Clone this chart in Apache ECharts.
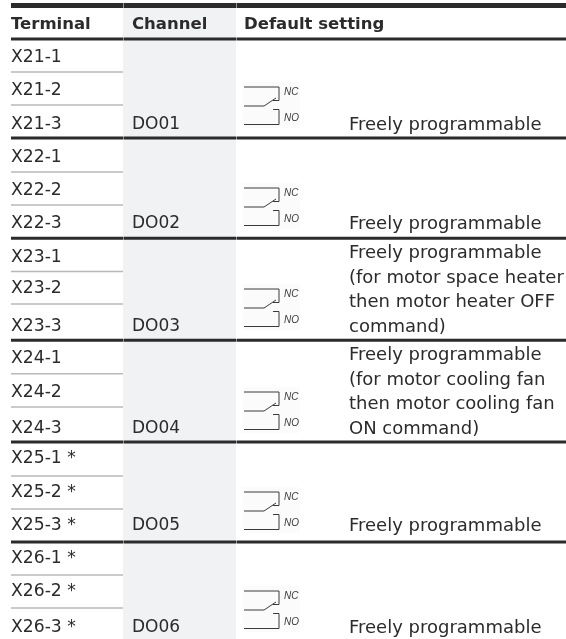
<!DOCTYPE html>
<html>
<head>
<meta charset="utf-8">
<style>
    html, body { margin: 0; padding: 0; background: #fff; }
    #chart { width: 566px; height: 639px; }
</style>
<script src="https://cdn.jsdelivr.net/npm/echarts@6/dist/echarts.min.js"></script>
</head>
<body>
<div id="chart"></div>
<script>
    // table content
    const headers = ['Terminal', 'Channel', 'Default setting']
    const terminals = [
        'X21-1', 'X21-2', 'X21-3', 'X22-1', 'X22-2', 'X22-3',
        'X23-1', 'X23-2', 'X23-3', 'X24-1', 'X24-2', 'X24-3',
        'X25-1 *', 'X25-2 *', 'X25-3 *', 'X26-1 *', 'X26-2 *', 'X26-3 *'
    ]
    const channels = ['DO01', 'DO02', 'DO03', 'DO04', 'DO05', 'DO06']
    const settings = [
        ['Freely programmable'],
        ['Freely programmable'],
        ['Freely programmable', '(for motor space heater', 'then motor heater OFF', 'command)'],
        ['Freely programmable', '(for motor cooling fan', 'then motor cooling fan', 'ON command)'],
        ['Freely programmable'],
        ['Freely programmable']
    ]

    // layout on the hidden axes, which run in page pixels
    const columnX = [11, 132, 244, 349]
    const bandX = [123, 236]
    const headerY = 25
    const rowY = [58, 91, 125, 158, 191, 224, 258, 289, 327, 359, 393, 429, 459, 493, 526, 559, 592, 628]
    const thinY = [72, 105, 172, 205, 271.5, 304, 373.7, 407, 476, 509, 575, 608]
    const ruleY = [39, 138, 238.3, 340.3, 442, 542]
    const relayY = [87, 188, 289, 392, 492, 591]
    const lineGap = 24.4

    const ink = '#2b2b2b'

    function textSeries(items, font) {
        return {
            type: 'custom',
            silent: true,
            z: 5,
            data: items,
            renderItem(params, api) {
                const item = items[params.dataIndex]
                const p = api.coord([item[0], item[1]])
                return {
                    type: 'text',
                    x: p[0],
                    y: p[1],
                    style: {text: item[2], fill: ink, font: font, textAlign: 'left', textVerticalAlign: 'middle'}
                }
            }
        }
    }

    function lineSeries(ys, x1, x2, width, color, z) {
        return {
            type: 'custom',
            silent: true,
            z: z,
            data: ys,
            renderItem(params, api) {
                const a = api.coord([x1, ys[params.dataIndex]])
                const b = api.coord([x2, ys[params.dataIndex]])
                return {
                    type: 'line',
                    shape: {x1: a[0], y1: a[1], x2: b[0], y2: b[1]},
                    style: {stroke: color, lineWidth: width}
                }
            }
        }
    }

    // the heavy rules have a faint seam at each column edge
    function ruleSeries(ys, width) {
        return [
            lineSeries(ys, 11, bandX[0], width, ink, 4),
            lineSeries(ys, bandX[0] + 0.5, bandX[1], width, ink, 4),
            lineSeries(ys, bandX[1] + 0.5, 566, width, ink, 4)
        ]
    }

    const terminalItems = terminals.map((t, i) => [columnX[0], rowY[i], t])
    const channelItems = channels.map((c, i) => [columnX[1], rowY[i * 3 + 2], c])
    const settingItems = []
    settings.forEach((lines, g) => {
        lines.forEach((l, i) => {
            settingItems.push([columnX[3], rowY[g * 3 + 2] - (lines.length - 1 - i) * lineGap, l])
        })
    })
    const headerItems = headers.map((h, i) => [columnX[i], headerY, h])

    const chart = echarts.init(document.getElementById('chart'))
    chart.setOption({
        animation: false,
        backgroundColor: '#fff',
        grid: {left: 0, right: 0, top: 0, bottom: 0},
        xAxis: {type: 'value', min: 0, max: 566, show: false},
        yAxis: {type: 'value', min: 0, max: 639, inverse: true, show: false},
        series: [
            {
                // shaded channel column
                type: 'custom',
                silent: true,
                z: 1,
                data: [0],
                renderItem(params, api) {
                    const a = api.coord([bandX[0], 8])
                    const b = api.coord([bandX[1], 639])
                    return {
                        type: 'rect',
                        shape: {x: a[0], y: a[1], width: b[0] - a[0], height: b[1] - a[1]},
                        style: {fill: '#f1f2f4'}
                    }
                }
            },
            {
                // contact symbol beside each channel
                type: 'custom',
                silent: true,
                z: 3,
                data: relayY,
                renderItem(params, api) {
                    const p = api.coord([columnX[2], relayY[params.dataIndex]])
                    const x = p[0], y = p[1]
                    const stroke = {stroke: '#3a3a3a', lineWidth: 1, fill: null}
                    const poly = pts => ({
                        type: 'polyline',
                        shape: {points: pts.map(q => [x + q[0], y + q[1]])},
                        style: stroke
                    })
                    const label = (txt, dy) => ({
                        type: 'text',
                        x: x + 40,
                        y: y + dy,
                        style: {text: txt, fill: '#3a3a3a', font: 'italic 10px "Liberation Sans"', textVerticalAlign: 'middle'}
                    })
                    return {
                        type: 'group',
                        children: [
                            {
                                type: 'rect',
                                shape: {x: x - 1, y: y - 5, width: 57, height: 46},
                                style: {fill: '#fbfbfb'}
                            },
                            poly([[0, 0], [35, 0], [35, 13.5], [29, 13.5]]),
                            poly([[0, 19], [20, 19], [32, 11]]),
                            poly([[29, 22.5], [35, 22.5], [35, 37.5], [0, 37.5]]),
                            label('NC', 5.5),
                            label('NO', 31)
                        ]
                    }
                }
            },
            lineSeries(thinY, 11, bandX[0], 1.5, '#b9b9b9', 2),
            ...ruleSeries(ruleY, 3),
            ...ruleSeries([5.5], 5),
            textSeries(headerItems, 'bold 16.5px "DejaVu Sans"'),
            textSeries(terminalItems, '17.2px "DejaVu Sans"'),
            textSeries(channelItems, '17px "DejaVu Sans"'),
            textSeries(settingItems, '18px "DejaVu Sans"')
        ]
    })
</script>
</body>
</html>
